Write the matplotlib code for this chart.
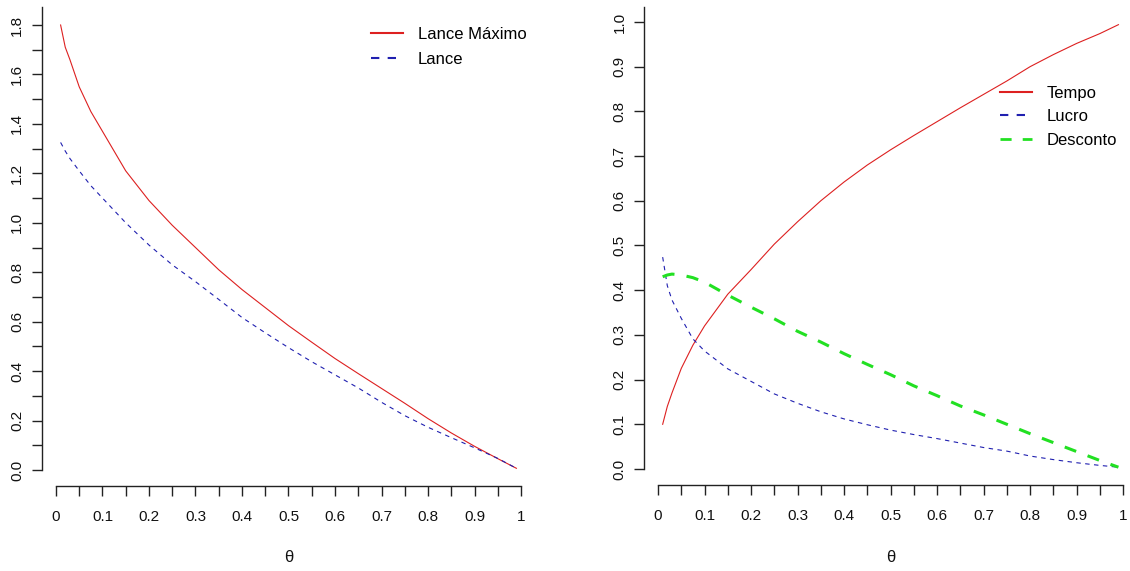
import matplotlib
matplotlib.use('Agg')
import matplotlib.pyplot as plt
import matplotlib.transforms as mtransforms
from matplotlib.lines import Line2D
import numpy as np

plt.rcParams['font.family'] = ['Liberation Sans', 'DejaVu Sans']

# theta grid
theta = [0.01, 0.02, 0.03, 0.05, 0.075, 0.10, 0.15, 0.20, 0.25, 0.30, 0.35, 0.40,
         0.45, 0.50, 0.55, 0.60, 0.65, 0.70, 0.75, 0.80, 0.85, 0.90, 0.95, 0.99]

# left panel
lance_max = [1.80, 1.71, 1.66, 1.55, 1.45, 1.37, 1.21, 1.09, 0.99, 0.90, 0.81, 0.73,
             0.657, 0.584, 0.517, 0.451, 0.39, 0.33, 0.27, 0.208, 0.15, 0.096, 0.046, 0.007]
lance = [1.325, 1.29, 1.26, 1.21, 1.15, 1.10, 1.00, 0.91, 0.83, 0.762, 0.69, 0.617,
         0.555, 0.495, 0.438, 0.385, 0.332, 0.274, 0.22, 0.173, 0.131, 0.09, 0.047, 0.007]

# right panel
tempo = [0.10, 0.14, 0.17, 0.225, 0.277, 0.32, 0.391, 0.446, 0.503, 0.553, 0.600, 0.642,
         0.680, 0.714, 0.746, 0.777, 0.808, 0.838, 0.868, 0.900, 0.927, 0.952, 0.974, 0.994]
lucro = [0.474, 0.41, 0.378, 0.337, 0.291, 0.264, 0.224, 0.196, 0.168, 0.147, 0.128, 0.112,
         0.099, 0.087, 0.077, 0.068, 0.058, 0.048, 0.04, 0.029, 0.021, 0.014, 0.008, 0.004]
desconto = [0.43, 0.434, 0.436, 0.434, 0.428, 0.418, 0.389, 0.362, 0.336, 0.308, 0.284, 0.258,
            0.234, 0.211, 0.186, 0.164, 0.141, 0.121, 0.10, 0.079, 0.059, 0.039, 0.019, 0.004]

x_major = [0, 0.1, 0.2, 0.3, 0.4, 0.5, 0.6, 0.7, 0.8, 0.9, 1.0]
x_labels = ['0', '0.1', '0.2', '0.3', '0.4', '0.5', '0.6', '0.7', '0.8', '0.9', '1']

RED = '#dd2020'
BLUE = '#2020b0'
GREEN = '#22e022'
AX = '#222222'

fig = plt.figure(figsize=(11.3, 5.71), dpi=100)
ax1 = fig.add_axes([0.0375, 0.1487, 0.4356, 0.8387])
ax2 = fig.add_axes([0.5703, 0.1508, 0.4356, 0.8370])


def style_axes(ax, ylim, y_major, y_labels, y_minor):
    ax.set_xlim(-0.0292, 1.0292)
    ax.set_ylim(*ylim)
    for s in ['top', 'right']:
        ax.spines[s].set_visible(False)
    for s in ['left', 'bottom']:
        ax.spines[s].set_color(AX)
        ax.spines[s].set_linewidth(1.0)
    ax.spines['bottom'].set_bounds(0, 1)
    ax.spines['left'].set_bounds(0, ylim[1])
    ax.set_xticks(x_major)
    ax.set_xticklabels(x_labels)
    ax.set_xticks(np.arange(0.05, 1.0, 0.1), minor=True)
    ax.set_yticks(y_major)
    ax.set_yticklabels(y_labels)
    ax.set_yticks(y_minor, minor=True)
    ax.tick_params(which='both', direction='out', length=7, width=1.0, color=AX)
    ax.tick_params(axis='x', which='major', pad=10, labelsize=11, labelcolor='#111111')
    ax.tick_params(axis='y', which='major', pad=6, labelsize=11, labelcolor='#111111',
                   labelrotation=90)
    for lab in ax.get_yticklabels():
        lab.set_va('center')
    trans = mtransforms.blended_transform_factory(ax.transData, fig.transFigure)
    ax.text(0.5, 1 - 557 / 571, '\u03b8', transform=trans, ha='center', va='center',
            fontsize=12, color='#111111')


# left panel
ax1.plot(theta, lance_max, color=RED, lw=0.8)
ax1.plot(theta, lance, color=BLUE, lw=0.8, dashes=(4, 4))
style_axes(ax1, (-0.065, 1.872),
           [0, 0.2, 0.4, 0.6, 0.8, 1.0, 1.2, 1.4, 1.6, 1.8],
           ['0.0', '0.2', '0.4', '0.6', '0.8', '1.0', '1.2', '1.4', '1.6', '1.8'],
           [0.1, 0.3, 0.5, 0.7, 0.9, 1.1, 1.3, 1.5, 1.7])
h1 = [Line2D([], [], color=RED, lw=1.5),
      Line2D([], [], color=BLUE, lw=1.5, dashes=(4, 4))]
ax1.legend(h1, ['Lance Máximo', 'Lance'], loc='upper left',
           bbox_to_anchor=(371 / 1130, 1 - 27 / 571), bbox_transform=fig.transFigure,
           frameon=False, fontsize=12, handlelength=1.9, handletextpad=0.9,
           borderpad=0, borderaxespad=0, labelspacing=0.62)

# right panel
ax2.plot(theta, tempo, color=RED, lw=0.8)
ax2.plot(theta, lucro, color=BLUE, lw=0.8, dashes=(4, 4))
ax2.plot(theta, desconto, color=GREEN, lw=2.2, dashes=(4, 4))
style_axes(ax2, (-0.0356, 1.0336),
           [0, 0.1, 0.2, 0.3, 0.4, 0.5, 0.6, 0.7, 0.8, 0.9, 1.0],
           ['0.0', '0.1', '0.2', '0.3', '0.4', '0.5', '0.6', '0.7', '0.8', '0.9', '1.0'],
           [])
h2 = [Line2D([], [], color=RED, lw=1.5),
      Line2D([], [], color=BLUE, lw=1.5, dashes=(4, 4)),
      Line2D([], [], color=GREEN, lw=2.0, dashes=(4, 4))]
ax2.legend(h2, ['Tempo', 'Lucro', 'Desconto'], loc='upper left',
           bbox_to_anchor=(1000 / 1130, 1 - 86 / 571), bbox_transform=fig.transFigure,
           frameon=False, fontsize=12, handlelength=1.9, handletextpad=0.9,
           borderpad=0, borderaxespad=0, labelspacing=0.5)

fig.savefig('out.png', dpi=100)
